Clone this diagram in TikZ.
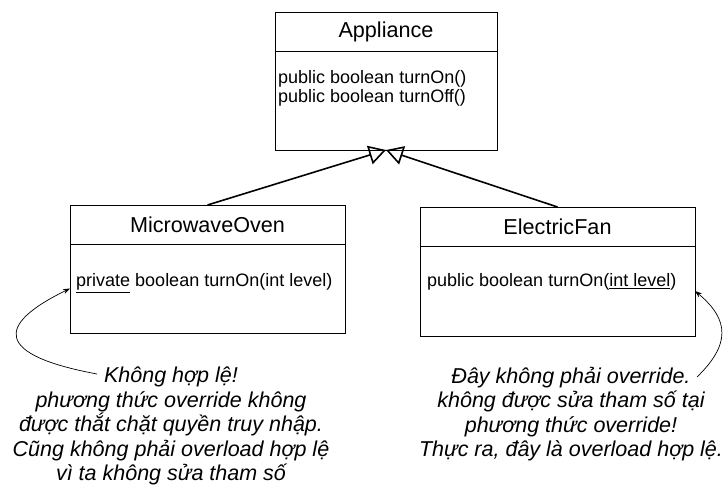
\documentclass[tikz,border=0pt]{standalone}
\usepackage{fontspec}
\setmainfont{Liberation Sans}
\usetikzlibrary{arrows.meta}
\newcommand\tightlines{\lineskiplimit=-30pt\relax\lineskip=0pt\relax}
\begin{document}
\begin{tikzpicture}[x=1pt,y=-1pt,
  box/.style={draw=black, line width=0.9pt, inner sep=0pt, outer sep=0pt, anchor=north west},
  ttl/.style={font=\fontsize{21.6}{24}\selectfont},
  meth/.style={font={\fontsize{18}{19}\selectfont\tightlines}, inner sep=0pt, anchor=west, align=left},
  note/.style={font={\fontsize{21.5}{24.5}\selectfont\itshape\tightlines}, align=center, inner sep=0pt},
  inherit/.style={line width=1.6pt, -{Triangle[open, length=17pt, width=19pt]}},
  remark/.style={line width=0.7pt, -{Stealth[length=7pt, width=5pt]}}]
\useasboundingbox (0,0) rectangle (726,489);

% Appliance
\node[box, ttl, minimum width=222pt, minimum height=39pt] (apph) at (275,12) {Appliance};
\node[box, minimum width=222pt, minimum height=99pt] (appb) at (275,51) {};
\node[meth] (appm) at (278,88) {public boolean turnOn()\\public boolean turnOff()};

% MicrowaveOven
\node[box, ttl, minimum width=275pt, minimum height=39pt] (mwh) at (70,205) {MicrowaveOven};
\node[box, minimum width=275pt, minimum height=89pt] (mwb) at (70,244) {};
\node[meth] (mwm) at (76,283) {\underline{private} boolean turnOn(int level)};

% ElectricFan
\node[box, ttl, minimum width=275pt, minimum height=39pt] (efh) at (420,207) {ElectricFan};
\node[box, minimum width=275pt, minimum height=90pt] (efb) at (420,246) {};
\node[meth] (efm) at (427,282) {public boolean turnOn(\underline{int level})};

% notes
\node[note] (n1) at (171,426) {Không hợp lệ!\\phương thức override không\\được thắt chặt quyền truy nhập.\\Cũng không phải overload hợp lệ\\vì ta không sửa tham số};
\node[note] (n2) at (571,414) {Đây không phải override.\\không được sửa tham số tại\\phương thức override!\\Thực ra, đây là overload hợp lệ.};

% inheritance
\draw[inherit] (mwh.north) -- (appb.south);
\draw[inherit] (efh.north) -- (appb.south);

% remarks
\coordinate (s1) at (97,374);
\draw[remark] (s1) .. controls (-5,355) and (-5,325) .. (mwb.west);
\coordinate (s2) at (697,377);
\draw[remark] (s2) .. controls (730,345) and (730,320) .. (efb.east);
\end{tikzpicture}
\end{document}
